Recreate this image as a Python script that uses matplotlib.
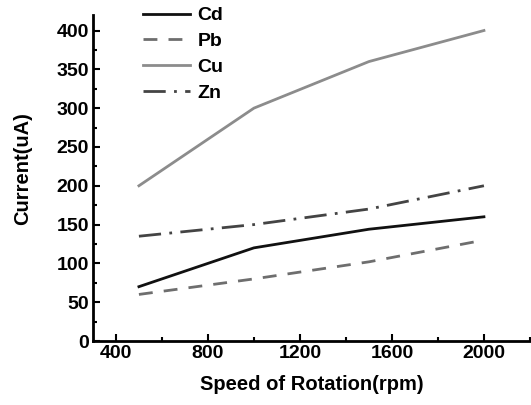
import matplotlib
matplotlib.use("Agg")
import matplotlib.pyplot as plt
from matplotlib.ticker import MultipleLocator

plt.rcParams['font.family'] = ['Liberation Sans', 'DejaVu Sans']
plt.rcParams['font.weight'] = 'bold'

speed = [500, 1000, 1500, 2000]
cd = [70, 120, 144, 160]
pb = [60, 80, 102, 130]
cu = [200, 300, 360, 400]
zn = [135, 150, 170, 200]
x_ticks = [400, 800, 1200, 1600, 2000]
y_ticks = [0, 50, 100, 150, 200, 250, 300, 350, 400]

fig = plt.figure(figsize=(5.31, 4.05), dpi=100)
ax = fig.add_axes([0.175, 0.158, 0.823, 0.805])

ax.plot(speed, cd, color='#111111', lw=2.0, ls='-', label='Cd')
ax.plot(speed, pb, color='#6e6e6e', lw=2.0, ls=(0, (5, 4)), label='Pb')
ax.plot(speed, cu, color='#8c8c8c', lw=2.0, ls='-', label='Cu')
ax.plot(speed, zn, color='#444444', lw=2.0, ls=(0, (8, 3, 1, 3)), label='Zn')

ax.set_xlim(300, 2200)
ax.set_ylim(0, 420)
ax.set_xticks(x_ticks)
ax.set_yticks(y_ticks)
ax.xaxis.set_minor_locator(MultipleLocator(200))
ax.yaxis.set_minor_locator(MultipleLocator(25))
ax.tick_params(which='both', direction='in', width=1.5, labelsize=14)
ax.tick_params(which='major', length=5, pad=3)
ax.tick_params(which='minor', length=3)
for s in ['top', 'right']:
    ax.spines[s].set_visible(False)
for s in ['left', 'bottom']:
    ax.spines[s].set_linewidth(2)

ax.set_xlabel('Speed of Rotation(rpm)', fontsize=14.5, fontweight='bold', labelpad=9)
ax.set_ylabel('Current(uA)', fontsize=14.5, fontweight='bold', labelpad=8)
ax.yaxis.set_label_coords(-0.14, 0.53)

leg = ax.legend(loc='upper left', bbox_to_anchor=(0.115, 1.025), frameon=False,
                borderaxespad=0, borderpad=0,
                fontsize=14, handlelength=2.4, handletextpad=0.4, labelspacing=0.42)

fig.savefig('out.png', dpi=100)
